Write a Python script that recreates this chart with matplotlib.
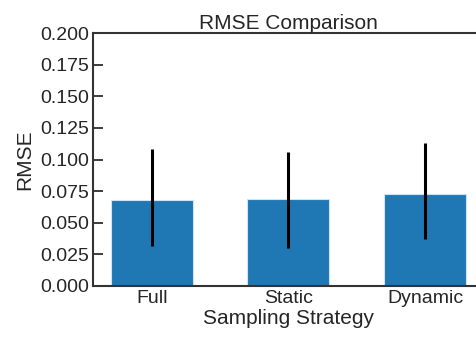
import matplotlib
matplotlib.use("Agg")
import matplotlib.pyplot as plt
import numpy as np

categories = ["Full", "Static", "Dynamic"]
rmse = [0.068, 0.069, 0.073]
err_low = [0.036, 0.039, 0.0356]
err_high = [0.040, 0.0367, 0.0403]

plt.rcParams['font.family'] = ['Liberation Sans', 'DejaVu Sans']
text_color = '#262626'
plt.rcParams['text.color'] = text_color
plt.rcParams['axes.labelcolor'] = text_color
plt.rcParams['xtick.color'] = text_color
plt.rcParams['ytick.color'] = text_color

fig = plt.figure(figsize=(4.77, 3.38), dpi=100)
ax = fig.add_axes([93/477, 52/338, (483.7-93)/477, (286-33)/338])

x = np.arange(len(categories))
ax.bar(x, rmse, width=0.6, color='#1f77b4', edgecolor='#cfe3f2', linewidth=0.8,
       yerr=[err_low, err_high], error_kw=dict(ecolor='black', elinewidth=2.2, capsize=0))

ax.set_xticks(x)
ax.set_xticklabels(categories, fontsize=14)
ax.set_ylim(0, 0.2)
ax.set_yticks(np.arange(0, 0.2001, 0.025))
ax.set_yticklabels([f"{v:.3f}" for v in np.arange(0, 0.2001, 0.025)], fontsize=14)
ax.tick_params(axis='y', direction='in', length=7, width=1.25, pad=3)
ax.tick_params(axis='x', length=0, pad=3)
ax.set_xlim(-0.43, 2.43)

for s in ['left', 'bottom', 'top']:
    ax.spines[s].set_color('#333333')
    ax.spines[s].set_linewidth(1.5)
ax.spines['right'].set_visible(False)

ax.set_xlabel("Sampling Strategy", fontsize=15, labelpad=1)
ax.set_ylabel("RMSE", fontsize=15, labelpad=4)
ax.set_title("RMSE Comparison", fontsize=15, pad=3)

fig.savefig("out.png", dpi=100)
